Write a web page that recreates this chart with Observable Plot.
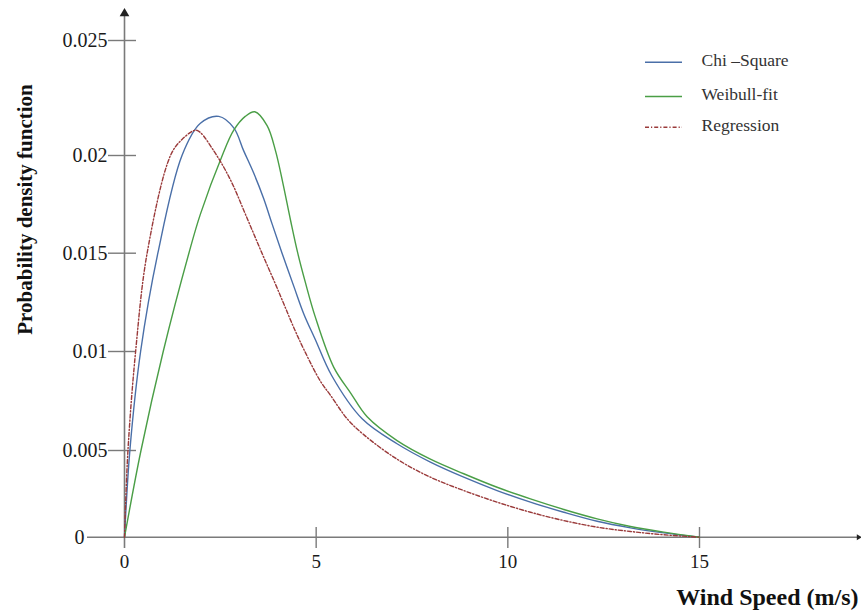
<!DOCTYPE html>
<html>
<head>
<meta charset="utf-8">
<script src="https://cdn.jsdelivr.net/npm/d3@7"></script>
<script src="https://cdn.jsdelivr.net/npm/@observablehq/plot@0.6"></script>
<style>
  html, body { margin: 0; padding: 0; background: #fff; }
  #chart svg { display: block; }
</style>
</head>
<body>
<div id="chart"></div>
<script>
// ---- data ----
const xTickValues = [0, 5, 10, 15];
const xTickLabels = ["0", "5", "10", "15"];
const yTickValues = [0, 0.005, 0.01, 0.015, 0.02, 0.025];
const yTickLabels = ["0", "0.005", "0.01", "0.015", "0.02", "0.025"];

const seriesNames = ["Chi \u2013Square", "Weibull-fit", "Regression"];

const chiX = [0, 0.14, 0.42, 0.87, 1.50, 1.98, 2.46, 2.85, 3.11, 3.37, 3.63, 3.85, 4.11, 4.42, 4.68, 4.98, 5.40, 6.20, 7.11, 7.98, 8.85, 9.72, 10.59, 11.46, 12.33, 13.20, 14.07, 15];
const chiY = [0, 0.005, 0.010, 0.015, 0.0200, 0.0214, 0.0217, 0.0212, 0.0202, 0.0191, 0.0178, 0.0165, 0.0150, 0.0133, 0.0119, 0.0106, 0.0088, 0.0066, 0.00534, 0.00433, 0.00346, 0.00269, 0.00202, 0.00144, 0.00092, 0.00054, 0.00025, 0];

const weiX = [0, 0.43, 1.01, 1.68, 1.98, 2.55, 2.85, 3.15, 3.40, 3.72, 3.94, 4.13, 4.33, 4.52, 4.72, 4.97, 5.46, 5.90, 6.33, 7.11, 7.98, 8.85, 9.72, 10.59, 11.46, 12.33, 13.20, 14.07, 15];
const weiY = [0, 0.005, 0.010, 0.015, 0.0170, 0.0200, 0.0211, 0.0217, 0.0219, 0.0213, 0.0202, 0.0186, 0.0167, 0.0150, 0.0135, 0.0118, 0.0092, 0.0079, 0.0067, 0.0055, 0.0045, 0.00366, 0.00288, 0.00221, 0.0016, 0.00106, 0.00062, 0.00029, 0];

const regX = [0, 0.09, 0.29, 0.59, 1.20, 1.50, 1.85, 1.98, 2.33, 2.59, 2.85, 3.11, 3.37, 3.63, 3.90, 4.16, 4.42, 4.68, 5.11, 5.37, 5.81, 6.24, 7.11, 7.98, 8.85, 9.72, 10.59, 11.46, 12.33, 13.20, 14.07, 15];
const regY = [0, 0.005, 0.010, 0.015, 0.0200, 0.0207, 0.0211, 0.0210, 0.0202, 0.0194, 0.0184, 0.0172, 0.0160, 0.0148, 0.0136, 0.0124, 0.0112, 0.0101, 0.0085, 0.0078, 0.0066, 0.0058, 0.0045, 0.00346, 0.00269, 0.00202, 0.00144, 0.00096, 0.00058, 0.00033, 0.00014, 0];

// ---- build table ----
const series = [
  {name: seriesNames[0], xs: chiX, ys: chiY},
  {name: seriesNames[1], xs: weiX, ys: weiY},
  {name: seriesNames[2], xs: regX, ys: regY}
];
const rows = series.flatMap(s => s.xs.map((x, i) => ({series: s.name, x, y: s.ys[i]})));

// ---- layout (pixel frame of the original figure) ----
const W = 861, H = 610;
const xRange = [124, 699];
// the original axis has unequal tick spacing: piecewise-linear value -> height mapping
const yTickHeights = [0, 86.7, 185.7, 284, 381.7, 496.7];
const yBase = 536.7;
const yWarp = d3.scaleLinear().domain(yTickValues).range(yTickHeights);
const xs = d3.scaleLinear().domain([0, 15]).range(xRange);
const px2x = p => xs.invert(p);
const px2y = p => yWarp.invert(yBase - p);

const colors = ["#4a6fa8", "#4a9e46", "#9a3a3a"];
const dashes = [null, null, "4 2 1.2 2"];
const serif = "'Liberation Serif', 'Times New Roman', serif";
const axisColor = "#7a7a7a";

const legendY = [61.7, 96, 126.7];

const marks = [];
// axes
marks.push(Plot.ruleY([0], {x1: px2x(87), x2: px2x(859), stroke: axisColor, strokeWidth: 1.6}));
marks.push(Plot.ruleX([0], {y1: px2y(548), y2: px2y(14), stroke: axisColor, strokeWidth: 1.6}));
marks.push(Plot.dot([0], {x: 0, y: px2y(13), symbol: "triangle", r: 3.6, fill: "#222", stroke: null}));
marks.push(Plot.dot([0], {x: px2x(858), y: 0, symbol: "triangle", rotate: 90, r: 2.2, fill: "#222", stroke: null}));
// y ticks (crossing the axis)
marks.push(Plot.ruleY(yTickValues.filter(v => v > 0), {x1: px2x(108), x2: px2x(136), stroke: axisColor, strokeWidth: 1.4}));
// x ticks
marks.push(Plot.ruleX(xTickValues.filter(v => v > 0), {y1: px2y(527), y2: px2y(548), stroke: axisColor, strokeWidth: 1.4}));
// tick labels
marks.push(Plot.text(yTickValues, {x: d => d === 0 ? px2x(84) : px2x(107), y: d => d, text: (d, i) => yTickLabels[i], textAnchor: "end", fontSize: 20, fontFamily: serif, fill: "#1a1a1a"}));
marks.push(Plot.text(xTickValues, {x: d => d, y: px2y(561), text: (d, i) => xTickLabels[i], fontSize: 19, fontFamily: serif, fill: "#1a1a1a"}));
// axis titles
marks.push(Plot.text(["Wind Speed (m/s)"], {x: px2x(858), y: px2y(597), text: d => d, textAnchor: "end", fontSize: 24, fontWeight: "bold", fontFamily: serif, fill: "#111"}));
marks.push(Plot.text(["Probability density function"], {x: px2x(25), y: px2y(209), text: d => d, rotate: -90, fontSize: 21, fontWeight: "bold", fontFamily: serif, fill: "#111"}));
// curves
series.forEach((s, i) => {
  marks.push(Plot.line(rows.filter(r => r.series === s.name), {
    x: "x", y: "y", curve: "catmull-rom",
    stroke: colors[i], strokeWidth: 1.4,
    strokeDasharray: dashes[i] || undefined
  }));
});
// legend
series.forEach((s, i) => {
  marks.push(Plot.ruleY([px2y(legendY[i])], {x1: px2x(645), x2: px2x(682), stroke: colors[i], strokeWidth: 1.4, strokeDasharray: dashes[i] || undefined}));
  marks.push(Plot.text([s.name], {x: px2x(701), y: px2y(legendY[i] - 2), text: d => d, textAnchor: "start", fontSize: 17.5, fontFamily: serif, fill: "#333"}));
});

const chart = Plot.plot({
  width: W,
  height: H,
  marginTop: 0, marginRight: 0, marginBottom: 0, marginLeft: 0,
  x: {domain: [0, 15], range: xRange, axis: null},
  y: {type: "linear", transform: v => yWarp(v), domain: [0, 496.7], range: [yBase, yBase - 496.7], axis: null},
  style: {background: "#fff", overflow: "visible"},
  marks
});
document.getElementById("chart").appendChild(chart);
</script>
</body>
</html>
